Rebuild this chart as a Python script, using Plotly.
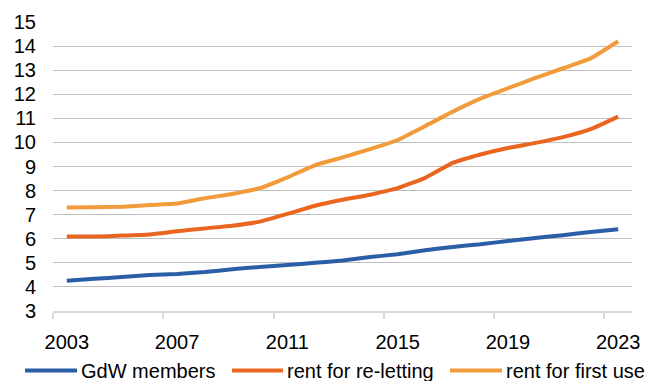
import plotly.graph_objects as go

# Average rent per square metre, 2003-2023
years = list(range(2003, 2024))
gdw_members = [4.26, 4.34, 4.41, 4.49, 4.54, 4.62, 4.73, 4.83, 4.91, 5.00, 5.10,
               5.24, 5.36, 5.52, 5.66, 5.77, 5.91, 6.03, 6.15, 6.28, 6.39]
rent_reletting = [6.09, 6.09, 6.13, 6.18, 6.31, 6.43, 6.54, 6.71, 7.03, 7.37, 7.62,
                  7.83, 8.10, 8.53, 9.15, 9.50, 9.77, 9.98, 10.22, 10.55, 11.07]
rent_first_use = [7.30, 7.31, 7.33, 7.40, 7.46, 7.68, 7.86, 8.10, 8.55, 9.05, 9.38,
                  9.72, 10.10, 10.68, 11.28, 11.82, 12.25, 12.68, 13.08, 13.49, 14.20]

series_names = ["GdW members", "rent for re-letting", "rent for first use"]
series_values = [gdw_members, rent_reletting, rent_first_use]
series_colors = ["#2a5fa8", "#ea651f", "#f29b3a"]

x_tick_labels = [2003, 2007, 2011, 2015, 2019, 2023]
y_tick_labels = list(range(3, 16))

W, H = 659, 381
L, R, T, B = 53, 27, 22, 70
PW, PH = W - L - R, H - T - B

fig = go.Figure()
for name, vals, col in zip(series_names, series_values, series_colors):
    fig.add_trace(go.Scatter(
        x=years, y=vals, name=name, mode="lines",
        line=dict(color=col, width=4, shape="spline", smoothing=0.4),
        showlegend=False,
    ))

# legend drawn below the plot area
def px_x(px):
    return (px - L) / PW

def px_y(py):
    return (H - B - py) / PH

legend_items = [(25, 77, 79), (232, 283, 285), (450, 502, 504)]
shapes = []
annotations = []
for (x0, x1, xt), name, col in zip(legend_items, series_names, series_colors):
    shapes.append(dict(type="line", xref="paper", yref="paper",
                       x0=px_x(x0), x1=px_x(x1), y0=px_y(370.5), y1=px_y(370.5),
                       line=dict(color=col, width=4)))
    annotations.append(dict(xref="paper", yref="paper", x=px_x(xt), y=px_y(370.5),
                            text=name, showarrow=False, xanchor="left", yanchor="middle",
                            font=dict(size=20, color="#000000")))

fig.update_layout(
    width=W, height=H,
    margin=dict(l=L, r=R, t=T, b=B, pad=0),
    paper_bgcolor="white", plot_bgcolor="white",
    font=dict(family="Liberation Sans, Arial, sans-serif", size=20, color="#000000"),
    shapes=shapes, annotations=annotations,
    xaxis=dict(
        range=[2002.5, 2023.5], tickmode="array", tickvals=x_tick_labels,
        ticks="", showgrid=False, zeroline=False,
        showline=True, linecolor="#d9d9d9", linewidth=1.5,
        ticklabelstandoff=12,
        minor=dict(tickmode="array", tickvals=[2002.5, 2006.5, 2010.5, 2014.5, 2018.5, 2022.5],
                   ticks="outside", ticklen=6, tickcolor="#d9d9d9", tickwidth=1.5,
                   showgrid=False),
    ),
    yaxis=dict(
        range=[3, 15], tickmode="array", tickvals=y_tick_labels,
        showgrid=True, gridcolor="#bfbfbf", gridwidth=1.3, zeroline=False,
        ticks="", ticklabelstandoff=16,
    ),
)

fig.write_html("out.html")
